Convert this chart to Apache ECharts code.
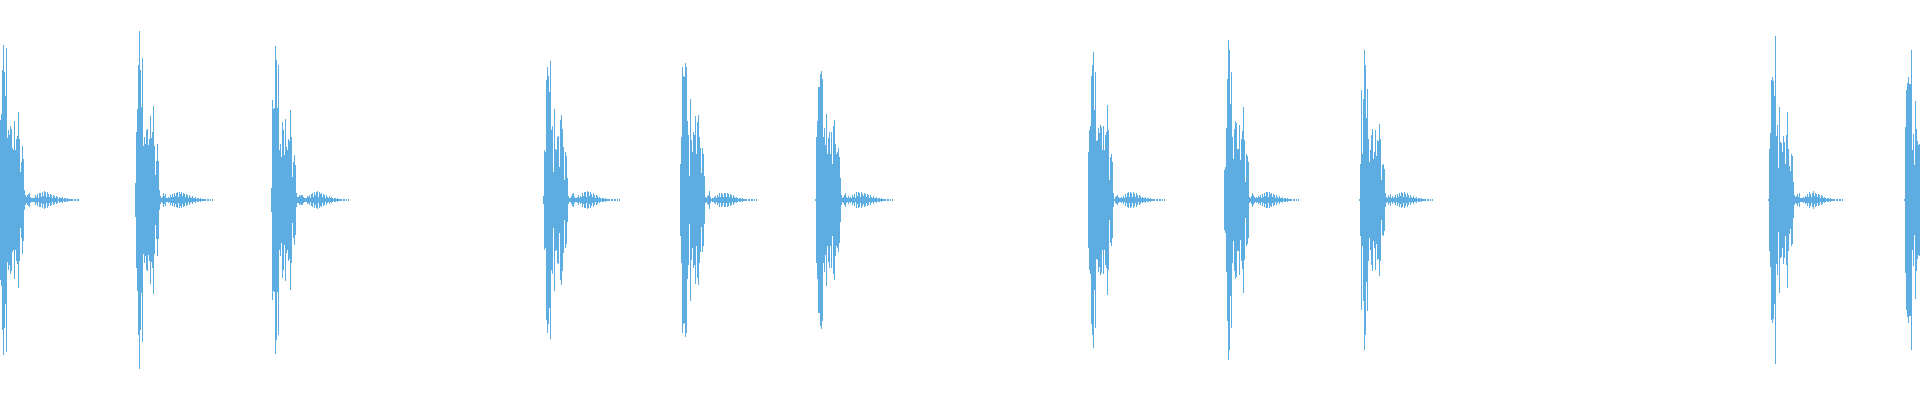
<!DOCTYPE html>
<html>
<head>
<meta charset="utf-8">
<title>waveform</title>
<script src="https://cdn.jsdelivr.net/npm/echarts@6/dist/echarts.min.js"></script>
<style>
  html, body { margin: 0; padding: 0; background: #fff; }
  #chart { width: 1920px; height: 400px; }
</style>
</head>
<body>
<div id="chart"></div>
<script>
// one column per pixel, amplitude in px (peak above/below the centre line)
const columnCount = 1920
const hitStarts = [0, 135, 271, 543, 680, 815, 1088, 1224, 1359, 1768, 1904]

const hit1 = [80, 86, 130, 155, 128, 104, 152, 62, 70, 65, 74, 71, 52, 50, 79, 50, 61, 64, 88, 61, 28, 38, 54, 41, 10,
  5, 3, 5, 6, 7, 3, 2, 2, 2, 2, 5, 3, 6, 2, 7, 7, 3, 8, 4, 9, 8, 3, 8, 6, 3, 6, 5, 2, 5, 4, 2, 4, 3, 1, 3, 2, 2, 3, 1, 2, 2, 1, 2, 1, 1, 1, 1, 1, 0, 1, 1, 0, 1, 1, 0]
const hit2 = [17, 68, 91, 135, 169, 130, 93, 142, 54, 63, 56, 70, 71, 55, 61, 84, 62, 68, 94, 54, 25, 39, 56, 39, 10, 4, 2,
  3, 7, 4, 6, 2, 2, 3, 2, 5, 3, 6, 3, 7, 4, 7, 8, 3, 8, 6, 8, 4, 7, 6, 3, 6, 5, 2, 5, 3, 2, 4, 2, 2, 3, 1, 2, 2, 1, 2, 1, 1, 1, 1, 1, 0, 1, 1, 0, 1, 0, 1]
const hit3 = [12, 100, 91, 92, 154, 140, 92, 135, 50, 56, 43, 78, 70, 45, 81, 53, 50, 61, 59, 90, 63, 23, 38, 45, 35, 7, 3,
  3, 5, 4, 5, 5, 3, 2, 2, 2, 4, 3, 5, 2, 6, 7, 3, 8, 5, 8, 9, 3, 8, 6, 7, 3, 6, 5, 2, 5, 3, 2, 4, 2, 3, 2, 1, 2, 2, 1, 2, 1, 1, 1, 1, 0, 1, 1, 0, 1, 0, 1]
const hit4 = [4, 50, 48, 120, 133, 124, 108, 139, 70, 74, 28, 91, 51, 50, 63, 64, 33, 80, 85, 71, 53, 20, 48, 44, 22, 4, 2, 2,
  4, 6, 7, 3, 2, 2, 3, 5, 2, 4, 3, 7, 4, 8, 8, 3, 9, 8, 4, 8, 6, 3, 7, 5, 2, 5, 4, 2, 3, 2, 1, 2, 2, 1, 2, 1, 1, 1, 1, 0, 1, 1, 0, 1, 1, 0, 1, 0, 1]
const hit5 = [36, 63, 133, 124, 123, 137, 133, 79, 65, 24, 101, 60, 48, 68, 65, 84, 46, 78, 85, 63, 52, 27, 52, 46, 24, 3, 2, 4,
  5, 9, 3, 1, 2, 2, 3, 4, 2, 5, 3, 7, 3, 7, 6, 3, 7, 7, 3, 7, 6, 3, 6, 5, 2, 5, 3, 2, 3, 2, 1, 2, 2, 1, 2, 1, 1, 1, 1, 0, 1, 1, 0, 1, 1, 0, 1, 0, 1]
const hit6 = [1, 63, 79, 113, 113, 126, 129, 121, 63, 72, 55, 86, 46, 62, 68, 46, 68, 36, 74, 80, 56, 46, 48, 52, 43, 22, 5, 2,
  3, 5, 7, 3, 2, 4, 2, 3, 2, 5, 3, 6, 2, 8, 4, 8, 7, 3, 8, 6, 4, 7, 6, 3, 6, 5, 2, 5, 3, 2, 4, 2, 2, 3, 1, 2, 2, 1, 2, 1, 1, 1, 1, 0, 1, 1, 0, 1, 0, 1]
const hit7 = [48, 70, 74, 124, 135, 148, 90, 128, 59, 60, 72, 67, 75, 73, 50, 74, 50, 65, 68, 95, 70, 20, 43, 46, 38, 7, 1, 3,
  4, 5, 3, 2, 2, 3, 2, 4, 2, 6, 3, 7, 8, 3, 8, 7, 3, 8, 6, 3, 7, 5, 2, 5, 4, 2, 3, 2, 2, 3, 1, 2, 2, 1, 2, 1, 1, 1, 1, 0, 1, 1, 0, 1, 1, 0, 1, 0, 1]
const hit8 = [30, 33, 72, 121, 160, 150, 96, 128, 63, 41, 71, 79, 77, 51, 51, 75, 40, 61, 69, 93, 60, 18, 46, 44, 38, 3, 2,
  4, 7, 5, 3, 2, 3, 2, 4, 3, 5, 2, 6, 3, 7, 4, 8, 8, 3, 8, 6, 7, 3, 6, 5, 2, 5, 3, 2, 4, 2, 2, 3, 1, 2, 2, 1, 2, 1, 1, 1, 1, 0, 1, 1, 0, 1, 0, 1]
const hit9 = [1, 36, 110, 46, 101, 150, 135, 82, 111, 61, 38, 50, 65, 71, 41, 48, 70, 44, 60, 59, 76, 61, 20, 35, 36, 31, 7, 3,
  2, 5, 3, 6, 2, 4, 2, 3, 5, 2, 6, 3, 7, 4, 8, 7, 3, 8, 6, 3, 7, 5, 2, 5, 3, 2, 4, 2, 2, 3, 1, 2, 2, 1, 2, 1, 1, 1, 1, 0, 1, 1, 0, 1, 0, 1]
const hit10 = [1, 51, 67, 120, 123, 119, 104, 164, 64, 75, 32, 93, 58, 57, 48, 64, 58, 36, 65, 88, 51, 34, 29, 46, 44, 18, 5, 3,
  4, 6, 3, 7, 2, 2, 2, 3, 2, 4, 3, 6, 3, 8, 6, 3, 7, 9, 4, 7, 6, 3, 6, 5, 2, 5, 4, 2, 3, 2, 1, 2, 2, 1, 2, 1, 1, 1, 1, 0, 1, 1, 0, 1, 1, 0, 1]
const hit11 = [1, 73, 110, 117, 123, 116, 116, 150, 50, 66, 35, 99, 71, 59, 55, 56]

const hits = [hit1, hit2, hit3, hit4, hit5, hit6, hit7, hit8, hit9, hit10, hit11]

const waveColor = '#5dade2'

function buildColumns() {
  const cols = new Array(columnCount).fill(0)
  hits.forEach((h, i) => {
    h.forEach((v, j) => {
      const x = hitStarts[i] + j
      if (x < columnCount) cols[x] = v
    })
  })
  return cols
}

const myChart = echarts.init(document.getElementById('chart'), null, { renderer: 'canvas' })
const amp = buildColumns()
const categories = amp.map((v, i) => i)

// each column is one rect from -v to +v, snapped to whole pixels
function renderColumn(params, api) {
  const i = api.value(0)
  const v = api.value(1)
  if (!v) return null
  const top = api.coord([i, v])
  const bot = api.coord([i, -v])
  const w = Math.max(1, Math.round(api.size([1, 0])[0]))
  const x = Math.round(top[0] - w / 2)
  const y0 = Math.round(top[1])
  const y1 = Math.round(bot[1])
  return {
    type: 'rect',
    shape: { x: x, y: y0, width: w, height: Math.max(1, y1 - y0) },
    style: { fill: waveColor },
  }
}

const option = {
  animation: false,
  grid: {
    left: 0,
    right: 0,
    top: 0,
    bottom: 0,
  },
  xAxis: {
    type: 'category',
    data: categories,
    show: false,
  },
  yAxis: {
    type: 'value',
    min: -200,
    max: 200,
    show: false,
  },
  series: [
    {
      type: 'custom',
      renderItem: renderColumn,
      encode: { x: 0, y: 1 },
      data: amp.map((v, i) => [i, v]),
    },
  ]
}

myChart.setOption(option)
</script>
</body>
</html>
